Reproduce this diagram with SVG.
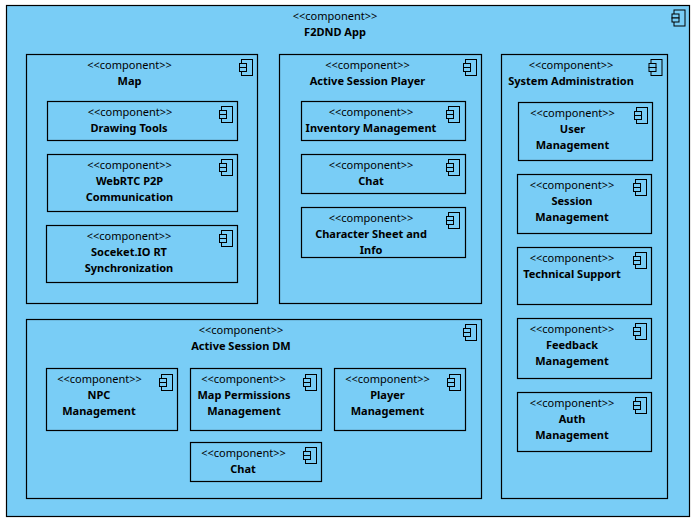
<svg xmlns="http://www.w3.org/2000/svg" width="696" height="523" viewBox="0 0 696 523">
<style>
.b{fill:#79cdf6;stroke:#000;stroke-width:1.2}
.i{fill:#79cdf6;stroke:#000;stroke-width:1}
text{font-family:"Noto Sans","DejaVu Sans",sans-serif;font-size:11.03px;fill:#000;text-anchor:middle}
.n{font-weight:700}
</style>
<defs>
<g id="ic"><rect class="i" x="2" y="0" width="11" height="16"/><rect class="i" x="0" y="4" width="7" height="4"/><rect class="i" x="0" y="8" width="7" height="4"/></g>
</defs>
<rect width="696" height="523" fill="#fff"/>
<g id="app"><rect class="b" x="6.5" y="5.5" width="683" height="511"/><use href="#ic" x="672" y="10"/><text x="335" y="20">&lt;&lt;component&gt;&gt;</text><text class="n" x="335" y="36">F2DND App</text></g>
<g id="map"><rect class="b" x="26.5" y="54.5" width="231" height="249"/><use href="#ic" x="239.5" y="59.5"/><text x="129.5" y="69">&lt;&lt;component&gt;&gt;</text><text class="n" x="129.5" y="85">Map</text></g>
<g id="drawing-tools"><rect class="b" x="47.5" y="101.5" width="190" height="39"/><use href="#ic" x="219.5" y="106.5"/><text x="130" y="116">&lt;&lt;component&gt;&gt;</text><text class="n" x="129" y="132">Drawing Tools</text></g>
<g id="webrtc"><rect class="b" x="47.5" y="154.5" width="190" height="57"/><use href="#ic" x="219.5" y="159.5"/><text x="129.5" y="169">&lt;&lt;component&gt;&gt;</text><text class="n" x="129.5" y="185">WebRTC P2P</text><text class="n" x="129.5" y="201">Communication</text></g>
<g id="socket"><rect class="b" x="46.5" y="225.5" width="191" height="57"/><use href="#ic" x="219.5" y="230.5"/><text x="129" y="240">&lt;&lt;component&gt;&gt;</text><text class="n" x="129" y="256">Soceket.IO RT</text><text class="n" x="129" y="272">Synchronization</text></g>
<g id="player"><rect class="b" x="279.5" y="54.5" width="202" height="249"/><use href="#ic" x="463.5" y="59.5"/><text x="367.5" y="69">&lt;&lt;component&gt;&gt;</text><text class="n" x="367.5" y="85">Active Session Player</text></g>
<g id="inventory"><rect class="b" x="301.5" y="101.5" width="164" height="39"/><use href="#ic" x="446.5" y="106.5"/><text x="371" y="116">&lt;&lt;component&gt;&gt;</text><text class="n" x="371" y="132">Inventory Management</text></g>
<g id="chat-player"><rect class="b" x="301.5" y="154.5" width="164" height="39"/><use href="#ic" x="446.5" y="159.5"/><text x="371" y="169">&lt;&lt;component&gt;&gt;</text><text class="n" x="371" y="185">Chat</text></g>
<g id="sheet"><rect class="b" x="301.5" y="207.5" width="164" height="50"/><use href="#ic" x="446.5" y="212.5"/><text x="371" y="222">&lt;&lt;component&gt;&gt;</text><text class="n" x="371" y="238">Character Sheet and</text><text class="n" x="371" y="254">Info</text></g>
<g id="admin"><rect class="b" x="501.5" y="54.5" width="166" height="444"/><use href="#ic" x="649" y="59.5"/><text x="571" y="69">&lt;&lt;component&gt;&gt;</text><text class="n" x="571" y="85">System Administration</text></g>
<g id="user"><rect class="b" x="518.5" y="102.5" width="134" height="58"/><use href="#ic" x="634.5" y="107.5"/><text x="572.5" y="117">&lt;&lt;component&gt;&gt;</text><text class="n" x="572.5" y="133">User</text><text class="n" x="572.5" y="149">Management</text></g>
<g id="session"><rect class="b" x="517.5" y="174.5" width="134" height="59"/><use href="#ic" x="633.5" y="179.5"/><text x="572" y="189">&lt;&lt;component&gt;&gt;</text><text class="n" x="572" y="205">Session</text><text class="n" x="572" y="221">Management</text></g>
<g id="support"><rect class="b" x="517.5" y="247.5" width="134" height="57"/><use href="#ic" x="633.5" y="252.5"/><text x="572" y="262">&lt;&lt;component&gt;&gt;</text><text class="n" x="572" y="278">Technical Support</text></g>
<g id="feedback"><rect class="b" x="517.5" y="318.5" width="134" height="60"/><use href="#ic" x="633.5" y="323.5"/><text x="572" y="333">&lt;&lt;component&gt;&gt;</text><text class="n" x="572" y="349">Feedback</text><text class="n" x="572" y="365">Management</text></g>
<g id="auth"><rect class="b" x="517.5" y="392.5" width="134" height="59"/><use href="#ic" x="633.5" y="397.5"/><text x="572" y="407">&lt;&lt;component&gt;&gt;</text><text class="n" x="572" y="423">Auth</text><text class="n" x="572" y="439">Management</text></g>
<g id="dm"><rect class="b" x="26.5" y="319.5" width="455" height="179"/><use href="#ic" x="463.5" y="324.5"/><text x="241" y="333.5">&lt;&lt;component&gt;&gt;</text><text class="n" x="241" y="349.5">Active Session DM</text></g>
<g id="npc"><rect class="b" x="46.5" y="368.5" width="131" height="62"/><use href="#ic" x="159.5" y="374.5"/><text x="99.5" y="383">&lt;&lt;component&gt;&gt;</text><text class="n" x="99" y="399">NPC</text><text class="n" x="99" y="415">Management</text></g>
<g id="permissions"><rect class="b" x="190.5" y="368.5" width="131" height="62"/><use href="#ic" x="303.5" y="374.5"/><text x="243.5" y="383">&lt;&lt;component&gt;&gt;</text><text class="n" x="244" y="399">Map Permissions</text><text class="n" x="244" y="415">Management</text></g>
<g id="player-mgmt"><rect class="b" x="334.5" y="368.5" width="131" height="62"/><use href="#ic" x="447.5" y="374.5"/><text x="387.5" y="383">&lt;&lt;component&gt;&gt;</text><text class="n" x="387.5" y="399">Player</text><text class="n" x="387.5" y="415">Management</text></g>
<g id="chat-dm"><rect class="b" x="190.5" y="442.5" width="131" height="39"/><use href="#ic" x="303.5" y="447.5"/><text x="243.5" y="457">&lt;&lt;component&gt;&gt;</text><text class="n" x="243" y="473">Chat</text></g>
<g id="connectors"/>
</svg>
